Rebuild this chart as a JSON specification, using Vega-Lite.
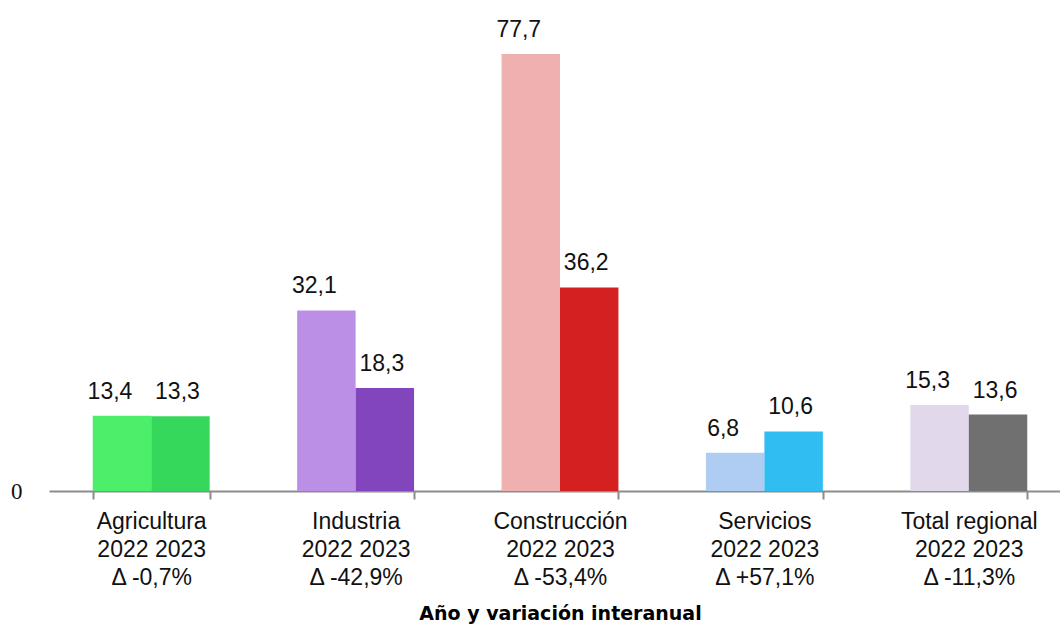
{
  "$schema": "https://vega.github.io/schema/vega-lite/v6.json",
  "width": 1011,
  "height": 491,
  "autosize": {"type": "none"},
  "padding": {"left": 49, "top": 0, "right": 0, "bottom": 133},
  "background": "#ffffff",
  "config": {
    "view": {"stroke": null},
    "locale": {"number": {"decimal": ",", "thousands": ".", "grouping": [3], "currency": ["", " €"]}}
  },
  "data": {
    "values": [
      {"cat": "Agricultura|2022 2023|Δ -0,7%", "year": "2022", "serie": "Agricultura 2022", "value": 13.4},
      {"cat": "Agricultura|2022 2023|Δ -0,7%", "year": "2023", "serie": "Agricultura 2023", "value": 13.3},
      {"cat": "Industria|2022 2023|Δ -42,9%", "year": "2022", "serie": "Industria 2022", "value": 32.1},
      {"cat": "Industria|2022 2023|Δ -42,9%", "year": "2023", "serie": "Industria 2023", "value": 18.3},
      {"cat": "Construcción|2022 2023|Δ -53,4%", "year": "2022", "serie": "Construcción 2022", "value": 77.7},
      {"cat": "Construcción|2022 2023|Δ -53,4%", "year": "2023", "serie": "Construcción 2023", "value": 36.2},
      {"cat": "Servicios|2022 2023|Δ +57,1%", "year": "2022", "serie": "Servicios 2022", "value": 6.8},
      {"cat": "Servicios|2022 2023|Δ +57,1%", "year": "2023", "serie": "Servicios 2023", "value": 10.6},
      {"cat": "Total regional|2022 2023|Δ -11,3%", "year": "2022", "serie": "Total regional 2022", "value": 15.3},
      {"cat": "Total regional|2022 2023|Δ -11,3%", "year": "2023", "serie": "Total regional 2023", "value": 13.6}
    ]
  },
  "encoding": {
    "x": {
      "field": "cat", "type": "nominal", "sort": null,
      "scale": {"range": [0, 1022], "paddingInner": 0.428, "paddingOuter": 0.214},
      "axis": {
        "title": "Año y variación interanual",
        "titleFont": "DejaVu Sans", "titleFontSize": 19, "titleFontWeight": "bold", "titleColor": "#000000",
        "titlePadding": 15,
        "labelAngle": 0,
        "labelExpr": "split(datum.label, '|')",
        "labelFont": "Liberation Sans", "labelFontSize": 23, "labelColor": "#111111",
        "labelLineHeight": 28, "labelBaseline": "top", "labelPadding": 11,
        "labelLimit": 300,
        "domainColor": "#8c8c8c", "domainWidth": 2,
        "ticks": true, "tickBand": "extent", "tickColor": "#8c8c8c", "tickWidth": 2, "tickSize": 8
      }
    },
    "xOffset": {"field": "year", "type": "nominal", "sort": ["2022", "2023"], "scale": {"paddingInner": 0, "paddingOuter": 0}},
    "y": {
      "field": "value", "type": "quantitative",
      "scale": {"domain": [0, 87.3], "nice": false, "zero": true},
      "axis": {
        "title": null, "values": [0], "grid": false, "domain": false, "ticks": false,
        "labelFont": "Liberation Serif", "labelFontSize": 23, "labelColor": "#111111", "labelPadding": 27
      }
    }
  },
  "layer": [
    {
      "mark": {"type": "bar", "strokeWidth": 1},
      "encoding": {
        "color": {
          "field": "serie", "type": "nominal", "legend": null,
          "scale": {
            "domain": ["Agricultura 2022", "Agricultura 2023", "Industria 2022", "Industria 2023", "Construcción 2022", "Construcción 2023", "Servicios 2022", "Servicios 2023", "Total regional 2022", "Total regional 2023"],
            "range": ["#4cee6a", "#36d85c", "#bb8fe6", "#8245bb", "#efb0b0", "#d42020", "#afcdf2", "#2fbdf2", "#e2d8ec", "#707070"]
          }
        }
      }
    },
    {
      "transform": [{"filter": "datum.year == '2022'"}],
      "mark": {"type": "text", "font": "Liberation Sans", "fontSize": 23, "color": "#111111", "baseline": "alphabetic", "dy": -17, "dx": -12},
      "encoding": {
        "text": {"field": "value", "type": "quantitative", "format": ".1f"}
      }
    },
    {
      "transform": [{"filter": "datum.year == '2023'"}],
      "mark": {"type": "text", "font": "Liberation Sans", "fontSize": 23, "color": "#111111", "baseline": "alphabetic", "dy": -17, "dx": -3},
      "encoding": {
        "text": {"field": "value", "type": "quantitative", "format": ".1f"}
      }
    }
  ]
}
